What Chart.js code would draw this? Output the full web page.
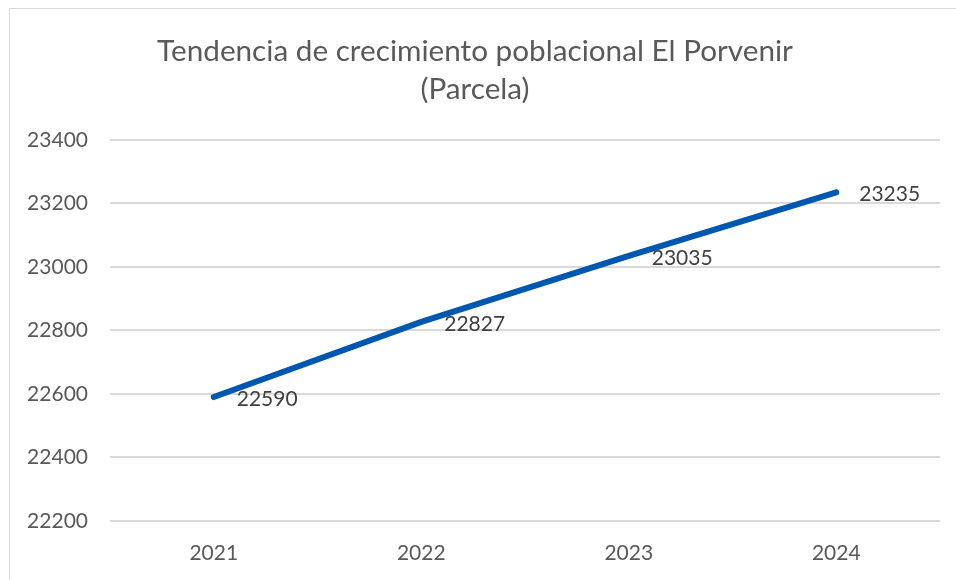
<!DOCTYPE html>
<html>
<head>
<meta charset="utf-8">
<script src="https://cdn.jsdelivr.net/npm/chart.js@4.4.1/dist/chart.umd.min.js"></script>
<style>
  html, body { margin: 0; padding: 0; background: #fff; overflow: hidden; }
  #marco { position: absolute; left: 9px; top: 8px; width: 960px; height: 580px; border: 1px solid #d9d9d9; }
</style>
</head>
<body>
<div id="marco"><canvas id="grafico" width="960" height="580"></canvas></div>
<script>
const anios = ["2021", "2022", "2023", "2024"];
const poblacion = [22590, 22827, 23035, 23235];
const ticksY = [22200, 22400, 22600, 22800, 23000, 23200, 23400];

// etiquetas de datos a la derecha de cada punto
const etiquetasDatos = {
    id: "etiquetasDatos",
    afterDatasetsDraw(chart) {
        const ctx = chart.ctx;
        const meta = chart.getDatasetMeta(0);
        ctx.save();
        ctx.font = "21px Lato";
        ctx.fillStyle = "#404040";
        ctx.textAlign = "left";
        ctx.textBaseline = "middle";
        meta.data.forEach((p, i) => {
            ctx.fillText(String(poblacion[i]), p.x + 23, p.y + 2);
        });
        ctx.restore();
    }
};

const ctx = document.getElementById("grafico").getContext("2d");
new Chart(ctx, {
    type: "line",
    data: {
        labels: anios,
        datasets: [{
            data: poblacion,
            borderColor: "#0057b0",
            borderWidth: 6,
            borderCapStyle: "round",
            pointRadius: 0,
            tension: 0
        }]
    },
    options: {
        responsive: false,
        animation: false,
        layout: { padding: { left: 0, right: 30, top: 0, bottom: 3 } },
        plugins: {
            legend: { display: false },
            tooltip: { enabled: false },
            title: {
                display: true,
                text: ["Tendencia de crecimiento poblacional El Porvenir", "(Parcela)"],
                color: "#595959",
                font: { family: "Lato", size: 29.7, weight: "normal", lineHeight: 1.28 },
                padding: { top: 23, bottom: 32 }
            }
        },
        scales: {
            x: {
                offset: true,
                grid: { display: false, drawTicks: false },
                border: { display: false },
                ticks: { color: "#595959", font: { family: "Lato", size: 21 }, padding: 20 }
            },
            y: {
                min: ticksY[0],
                max: ticksY[ticksY.length - 1],
                afterFit(scale) { scale.width = 100; },
                afterBuildTicks(scale) { scale.ticks = ticksY.map(v => ({ value: v })); },
                grid: { color: "#d9d9d9", lineWidth: 2, drawTicks: false },
                border: { display: false },
                ticks: {
                    color: "#595959",
                    font: { family: "Lato", size: 21 },
                    padding: 22,
                    callback: v => String(v)
                }
            }
        }
    },
    plugins: [etiquetasDatos]
});
</script>
</body>
</html>
